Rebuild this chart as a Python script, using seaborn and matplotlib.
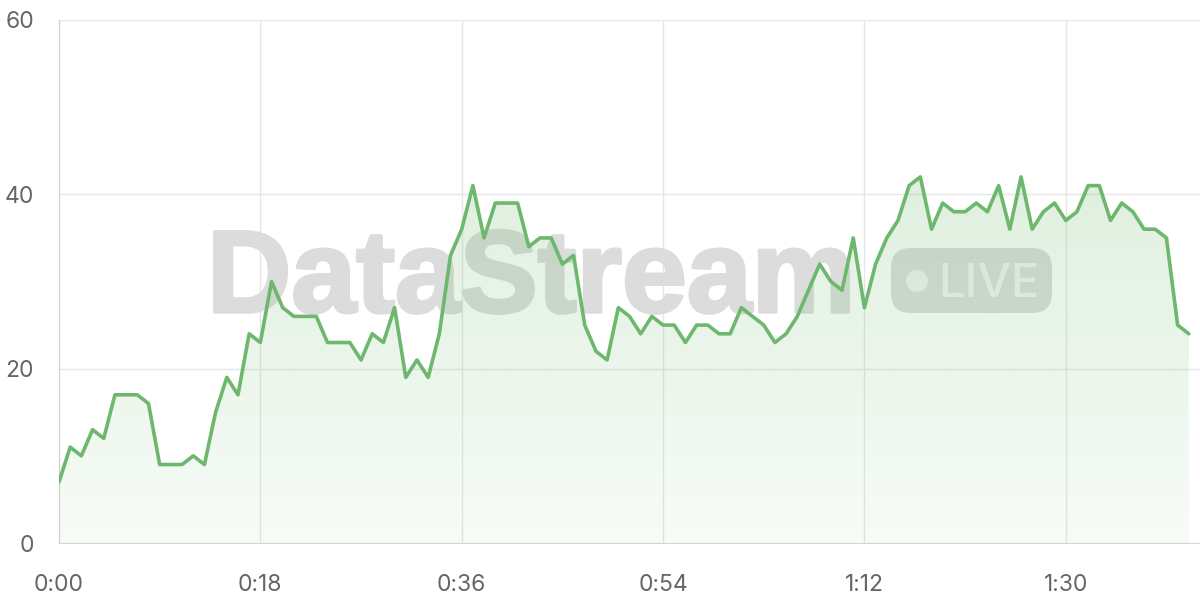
import numpy as np
import pandas as pd
import matplotlib
matplotlib.use('Agg')
import matplotlib.pyplot as plt
import matplotlib.patheffects as pe
import seaborn as sns
from matplotlib.patches import FancyBboxPatch, Circle
from matplotlib.transforms import IdentityTransform

# minuten sinds start en gemeten waarden
minutes = list(range(102))
values = [7, 11, 10, 13, 12, 17, 17, 17, 16, 9,
          9, 9, 10, 9, 15, 19, 17, 24, 23, 30,
          27, 26, 26, 26, 23, 23, 23, 21, 24, 23,
          27, 19, 21, 19, 24, 33, 36, 41, 35, 39,
          39, 39, 34, 35, 35, 32, 33, 25, 22, 21,
          27, 26, 24, 26, 25, 25, 23, 25, 25, 24,
          24, 27, 26, 25, 23, 24, 26, 29, 32, 30,
          29, 35, 27, 32, 35, 37, 41, 42, 36, 39,
          38, 38, 39, 38, 41, 36, 42, 36, 38, 39,
          37, 38, 41, 41, 37, 39, 38, 36, 36, 35,
          25, 24]
tick_pos = [0, 18, 36, 54, 72, 90]
tick_labels = ['0:00', '0:18', '0:36', '0:54', '1:12', '1:30']
y_ticks = [0, 20, 40, 60]

df = pd.DataFrame({'minute': minutes, 'value': values})

sns.set_style('white')
plt.rcParams['font.family'] = ['Inter', 'DejaVu Sans']

line_color = '#6db86d'
grid_color = '#e6e6e6'
mark_color = '#dcdcdc'

fig = plt.figure(figsize=(12, 6), dpi=100)
ax = fig.add_axes([59 / 1200, 57 / 600, (1200 - 59) / 1200, (543 - 20) / 600])
ax.set_xlim(0, 102)
ax.set_ylim(0, 60)

# gradient vulling onder de lijn
poly = ax.fill_between(df['minute'], df['value'], 0, color='none', lw=0)
top = max(values)
grad = np.zeros((200, 2, 4))
rgb = matplotlib.colors.to_rgb(line_color)
grad[:, :, 0], grad[:, :, 1], grad[:, :, 2] = rgb
grad[:, :, 3] = np.linspace(0.22, 0.05, 200)[:, None]
img = ax.imshow(grad, extent=[0, minutes[-1], 0, top], origin='upper',
                aspect='auto', zorder=1)
img.set_clip_path(poly.get_paths()[0], transform=ax.transData)

# watermerk onder de vulling (pixels, oorsprong linksonder)
ax.text(207 / 1200, 1 - 312 / 600, 'DataStream', fontsize=84, fontweight='bold',
        family='Liberation Sans', color=mark_color, ha='left', va='baseline',
        transform=fig.transFigure, zorder=0.8,
        path_effects=[pe.withStroke(linewidth=2.5, foreground=mark_color)])
pill = FancyBboxPatch((891, 600 - 313), 161, 65,
                      boxstyle='round,pad=0,rounding_size=20',
                      transform=IdentityTransform(), facecolor=mark_color,
                      edgecolor='none', zorder=0.8)
ax.add_artist(pill)
ax.add_artist(Circle((917, 600 - 281), 11, transform=IdentityTransform(),
                     facecolor='#f2f2f2', edgecolor='none', zorder=0.9))
ax.text(938 / 1200, 1 - 297 / 600, 'LIVE', fontsize=34, fontweight='medium',
        color='#f2f2f2', ha='left', va='baseline', transform=fig.transFigure,
        zorder=0.9)

sns.lineplot(data=df, x='minute', y='value', color=line_color, linewidth=2.6,
             ax=ax, zorder=4)

ax.set_xticks(tick_pos)
ax.set_xticklabels(tick_labels)
ax.set_yticks(y_ticks)
ax.grid(True, color=grid_color, linewidth=1)
ax.set_axisbelow(True)
ax.tick_params(axis='both', length=12, color=grid_color, labelsize=16.5,
               labelcolor='#666666', width=1)
ax.tick_params(axis='y', pad=6)
ax.tick_params(axis='x', pad=10)
ax.set_xlabel('')
ax.set_ylabel('')
for s in ['top', 'right']:
    ax.spines[s].set_visible(False)
ax.spines['left'].set_color('#d0d0d0')
ax.spines['bottom'].set_color('#d6d6d6')

plt.savefig('out.png', dpi=100)
